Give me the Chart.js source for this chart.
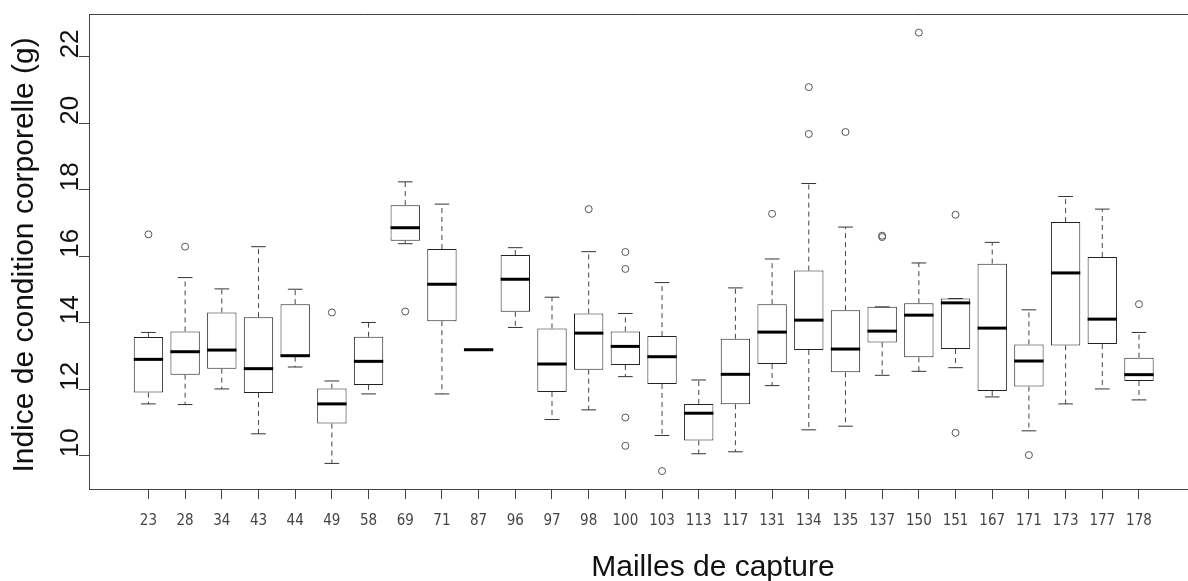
<!DOCTYPE html>
<html>
<head>
<meta charset="utf-8">
<script src="https://cdn.jsdelivr.net/npm/chart.js@4.4.1/dist/chart.umd.min.js"></script>
<style>
  html, body { margin: 0; padding: 0; background: #fff; overflow: hidden; }
</style>
</head>
<body>
<canvas id="boxChart" width="1188" height="581"></canvas>
<script>
const mailles = ['23', '28', '34', '43', '44', '49', '58', '69', '71', '87', '96', '97', '98', '100',
  '103', '113', '117', '131', '134', '135', '137', '150', '151', '167', '171', '173', '177', '178'];
const lowerWhisker = [11.56, 11.54, 12.01, 10.66, 12.67, 9.77, 11.86, 16.38, 11.86, 13.19, 13.86, 11.09, 11.38, 12.38,
  10.61, 10.06, 10.12, 12.11, 10.78, 10.89, 12.42, 12.54, 12.65, 11.77, 10.75, 11.56, 12.01, 11.68];
const q1 = [11.90, 12.44, 12.62, 11.89, 12.98, 10.97, 12.13, 16.47, 14.05, 13.19, 14.33, 11.92, 12.59, 12.73,
  12.16, 10.46, 11.55, 12.76, 13.18, 12.51, 13.41, 12.96, 13.21, 11.95, 12.08, 13.32, 13.36, 12.25];
const median = [12.90, 13.13, 13.18, 12.62, 13.01, 11.56, 12.84, 16.86, 15.16, 13.19, 15.31, 12.76, 13.69, 13.29,
  12.98, 11.28, 12.45, 13.72, 14.08, 13.21, 13.75, 14.23, 14.60, 13.84, 12.85, 15.50, 14.11, 12.44];
const q3 = [13.57, 13.74, 14.31, 14.17, 14.56, 12.02, 13.58, 17.54, 16.22, 13.19, 16.04, 13.83, 14.28, 13.74,
  13.60, 11.56, 13.52, 14.56, 15.57, 14.38, 14.48, 14.59, 14.73, 15.78, 13.35, 17.03, 15.98, 12.95];
const upperWhisker = [13.71, 15.36, 15.02, 16.29, 15.01, 12.25, 14.01, 18.24, 17.57, 13.19, 16.26, 14.77, 16.14, 14.28,
  15.21, 12.28, 15.05, 15.92, 18.19, 16.88, 14.48, 15.80, 14.73, 16.42, 14.39, 17.80, 17.42, 13.71];
const outliers = [[16.66], [16.29], [], [], [], [14.31], [], [14.34], [], [], [], [], [17.42], [16.13, 15.62, 11.15, 10.30],
  [9.54], [], [], [17.28], [21.09, 19.68], [19.74], [16.62, 16.58], [22.73], [17.25, 10.69], [], [10.02], [], [], [14.56]];
const yTicks = [10, 12, 14, 16, 18, 20, 22];

const boxData = mailles.map((m, i) => ({ x: i + 1, y: [q1[i], q3[i]] }));
const outlierData = [];
outliers.forEach((list, i) => list.forEach(v => outlierData.push({ x: i + 1, y: v })));

// whiskers, caps and medians on top of the floating bars
const boxParts = {
  id: 'boxParts',
  afterDatasetsDraw(chart) {
    const c = chart.ctx;
    const xs = chart.scales.x, ys = chart.scales.y;
    const bars = chart.getDatasetMeta(0).data;
    c.save();
    mailles.forEach((m, i) => {
      const x = xs.getPixelForValue(i + 1);
      const w = bars[i].width;
      const yLo = ys.getPixelForValue(lowerWhisker[i]);
      const yQ1 = ys.getPixelForValue(q1[i]);
      const yQ3 = ys.getPixelForValue(q3[i]);
      const yHi = ys.getPixelForValue(upperWhisker[i]);
      c.strokeStyle = '#444';
      c.lineWidth = 1;
      c.setLineDash([5, 4]);
      c.beginPath();
      c.moveTo(x, yQ3); c.lineTo(x, yHi);
      c.moveTo(x, yQ1); c.lineTo(x, yLo);
      c.stroke();
      c.setLineDash([]);
      c.strokeStyle = '#333';
      c.beginPath();
      c.moveTo(x - w / 4, yHi); c.lineTo(x + w / 4, yHi);
      c.moveTo(x - w / 4, yLo); c.lineTo(x + w / 4, yLo);
      c.stroke();
      const yMed = ys.getPixelForValue(median[i]);
      c.strokeStyle = '#000';
      c.lineWidth = 3;
      c.beginPath();
      c.moveTo(x - w / 2, yMed); c.lineTo(x + w / 2, yMed);
      c.stroke();
    });
    c.restore();
  },
  afterDraw(chart) {
    const c = chart.ctx;
    const area = chart.chartArea;
    const ys = chart.scales.y;
    c.save();
    // frame: top line, and bottom line carried on to the cropped right edge
    c.strokeStyle = '#444';
    c.lineWidth = 1;
    c.beginPath();
    c.moveTo(area.left, area.top + 0.5);
    c.lineTo(chart.width, area.top + 0.5);
    c.moveTo(area.right - 1, area.bottom + 0.5);
    c.lineTo(chart.width, area.bottom + 0.5);
    c.stroke();
    // rotated y tick labels
    c.fillStyle = '#111';
    c.font = '26px "Liberation Sans", Arial, sans-serif';
    c.textAlign = 'center';
    c.textBaseline = 'alphabetic';
    yTicks.forEach(v => {
      c.save();
      c.translate(78, ys.getPixelForValue(v) - 13);
      c.rotate(-Math.PI / 2);
      c.fillText(String(v), 0, 0);
      c.restore();
    });
    // axis titles
    c.font = '30px "Liberation Sans", Arial, sans-serif';
    c.save();
    c.translate(33, 255);
    c.rotate(-Math.PI / 2);
    c.fillText('Indice de condition corporelle (g)', 0, 0);
    c.restore();
    c.fillText('Mailles de capture', 713, 576);
    c.restore();
  }
};

const ctx = document.getElementById('boxChart').getContext('2d');
const chart = new Chart(ctx, {
  type: 'bar',
  data: {
    datasets: [{
      type: 'bar',
      data: boxData,
      backgroundColor: '#fff',
      borderColor: '#222',
      borderWidth: 1,
      borderSkipped: false,
      barPercentage: 0.8,
      categoryPercentage: 1.0
    }, {
      type: 'scatter',
      data: outlierData,
      pointStyle: 'circle',
      pointRadius: 3.5,
      borderColor: '#555',
      backgroundColor: 'rgba(0,0,0,0)',
      borderWidth: 1
    }]
  },
  options: {
    responsive: false,
    animation: false,
    layout: { padding: { top: 14, left: 0, right: 0, bottom: 0 } },
    plugins: {
      legend: { display: false },
      tooltip: { enabled: false }
    },
    scales: {
      x: {
        type: 'linear',
        offset: false,
        min: -0.62,
        max: 29.2,
        afterBuildTicks: s => { s.ticks = mailles.map((_, i) => ({ value: i + 1 })); },
        afterFit: s => { s.height = 92; },
        grid: { offset: false, drawOnChartArea: false, tickLength: 10, tickColor: '#444' },
        border: { color: '#444', width: 1 },
        ticks: {
          autoSkip: false,
          minRotation: 0,
          maxRotation: 0,
          padding: 13,
          color: '#444',
          font: { family: '"Liberation Sans Narrow", "DejaVu Sans Condensed", Arial, sans-serif', size: 15 },
          callback: (v, i) => mailles[i]
        }
      },
      y: {
        min: 9.0,
        max: 23.29,
        afterBuildTicks: s => { s.ticks = yTicks.map(v => ({ value: v })); },
        afterFit: s => { s.width = 89; },
        grid: { drawOnChartArea: false, tickLength: 10, tickColor: '#444' },
        border: { color: '#444', width: 1 },
        ticks: { display: false }
      }
    }
  },
  plugins: [boxParts]
});
</script>
</body>
</html>
